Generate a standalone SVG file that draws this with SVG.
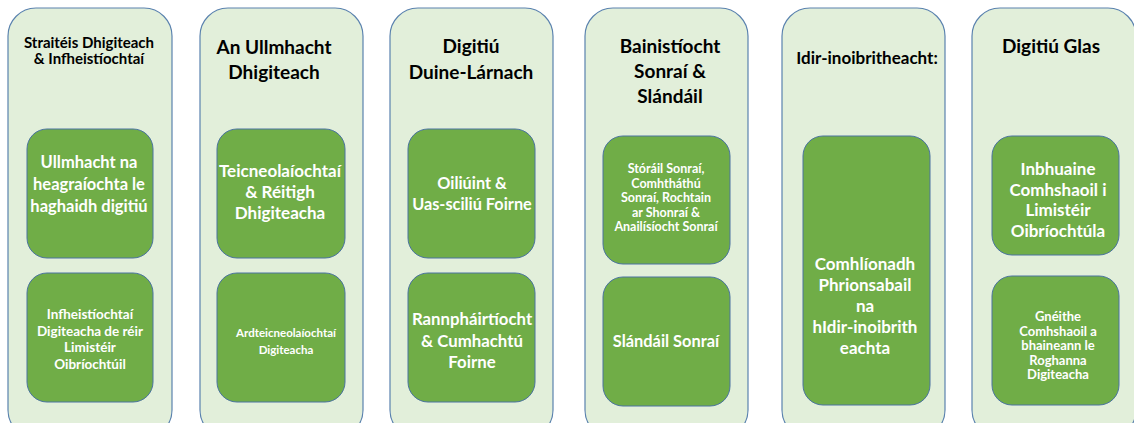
<svg xmlns="http://www.w3.org/2000/svg" width="1134" height="423" viewBox="0 0 1134 423">
<style>
.outer{fill:#E2EFDA;stroke:#5A82AE;stroke-width:1.2}
.inner{fill:#70AD47;stroke:#4A73A0;stroke-width:1}
.t{font-family:Lato,"Liberation Sans",sans-serif;font-weight:bold;fill:#000;text-anchor:middle}
.w{font-family:Lato,"Liberation Sans",sans-serif;font-weight:bold;fill:#fff;text-anchor:middle}
</style>
<rect width="1134" height="423" fill="#fff"/>
<g id="col1">
<rect class="outer" x="8" y="8" width="164" height="430" rx="28"/>
<text class="t" font-size="15"><tspan x="89" y="48">Straitéis Dhigiteach</tspan><tspan x="89" y="64">&amp; Infheistíochtaí</tspan></text>
</g>
<g id="col1-a">
<rect class="inner" x="27" y="129" width="126" height="129" rx="20"/>
<text class="w" font-size="16.5"><tspan x="89" y="168">Ullmhacht na</tspan><tspan x="89" y="190">heagraíochta le</tspan><tspan x="89" y="212">haghaidh digitiú</tspan></text>
</g>
<g id="col1-b">
<rect class="inner" x="27" y="273" width="126" height="129" rx="20"/>
<text class="w" font-size="13.5"><tspan x="90" y="319">Infheistíochtaí</tspan><tspan x="90" y="335.5">Digiteacha de réir</tspan><tspan x="90" y="352">Limistéir</tspan><tspan x="90" y="368.5">Oibríochtúil</tspan></text>
</g>
<g id="col2">
<rect class="outer" x="200" y="8" width="163" height="430" rx="28"/>
<text class="t" font-size="19"><tspan x="274" y="54">An Ullmhacht</tspan><tspan x="274" y="79">Dhigiteach</tspan></text>
</g>
<g id="col2-a">
<rect class="inner" x="217" y="129" width="128" height="129" rx="20"/>
<text class="w" font-size="17"><tspan x="280" y="177">Teicneolaíochtaí</tspan><tspan x="280" y="198">&amp; Réitigh</tspan><tspan x="280" y="219">Dhigiteacha</tspan></text>
</g>
<g id="col2-b">
<rect class="inner" x="217" y="273" width="128" height="129" rx="20"/>
<text class="w" font-size="11.5"><tspan x="286" y="337">Ardteicneolaíochtaí</tspan><tspan x="286" y="354">Digiteacha</tspan></text>
</g>
<g id="col3">
<rect class="outer" x="390" y="8" width="163" height="430" rx="28"/>
<text class="t" font-size="19"><tspan x="471" y="53">Digitiú</tspan><tspan x="471" y="79">Duine-Lárnach</tspan></text>
</g>
<g id="col3-a">
<rect class="inner" x="408" y="129" width="127" height="129" rx="20"/>
<text class="w" font-size="16.3"><tspan x="472" y="189">Oiliúint &amp;</tspan><tspan x="472" y="210">Uas-sciliú Foirne</tspan></text>
</g>
<g id="col3-b">
<rect class="inner" x="408" y="273" width="127" height="129" rx="20"/>
<text class="w" font-size="16.8"><tspan x="472" y="325">Rannpháirtíocht</tspan><tspan x="472" y="346.5">&amp; Cumhachtú</tspan><tspan x="472" y="368">Foirne</tspan></text>
</g>
<g id="col4">
<rect class="outer" x="585" y="8" width="163" height="430" rx="28"/>
<text class="t" font-size="19"><tspan x="670" y="53">Bainistíocht</tspan><tspan x="670" y="78">Sonraí &amp;</tspan><tspan x="670" y="103">Slándáil</tspan></text>
</g>
<g id="col4-a">
<rect class="inner" x="603" y="136" width="127" height="128" rx="20"/>
<text class="w" font-size="12.5"><tspan x="666" y="173">Stóráil Sonraí,</tspan><tspan x="666" y="187.5">Comhtháthú</tspan><tspan x="666" y="202">Sonraí, Rochtain</tspan><tspan x="666" y="216.5">ar Shonraí &amp;</tspan><tspan x="666" y="231">Anailísíocht Sonraí</tspan></text>
</g>
<g id="col4-b">
<rect class="inner" x="603" y="277" width="127" height="129" rx="20"/>
<text class="w" font-size="16.4"><tspan x="666" y="347">Slándáil Sonraí</tspan></text>
</g>
<g id="col5">
<rect class="outer" x="782" y="8" width="163" height="430" rx="28"/>
<text class="t" font-size="17"><tspan x="867" y="64">Idir-inoibritheacht:</tspan></text>
</g>
<g id="col5-a">
<rect class="inner" x="803" y="136" width="127" height="269" rx="20"/>
<text class="w" font-size="17"><tspan x="865" y="270">Comhlíonadh</tspan><tspan x="865" y="291">Phrionsabail</tspan><tspan x="865" y="312">na</tspan><tspan x="865" y="333">hIdir-inoibrith</tspan><tspan x="865" y="354">eachta</tspan></text>
</g>
<g id="col6">
<rect class="outer" x="972" y="8" width="164" height="430" rx="28"/>
<text class="t" font-size="19"><tspan x="1051" y="53">Digitiú Glas</tspan></text>
</g>
<g id="col6-a">
<rect class="inner" x="992" y="136" width="127" height="119" rx="20"/>
<text class="w" font-size="17"><tspan x="1058" y="175">Inbhuaine</tspan><tspan x="1058" y="195.5">Comhshaoil i</tspan><tspan x="1058" y="216">Limistéir</tspan><tspan x="1058" y="236.5">Oibríochtúla</tspan></text>
</g>
<g id="col6-b">
<rect class="inner" x="992" y="276" width="127" height="129" rx="20"/>
<text class="w" font-size="13"><tspan x="1058" y="321">Gnéithe</tspan><tspan x="1058" y="335.5">Comhshaoil a</tspan><tspan x="1058" y="350">bhaineann le</tspan><tspan x="1058" y="364.5">Roghanna</tspan><tspan x="1058" y="379">Digiteacha</tspan></text>
</g>
<g id="connectors"></g>
</svg>
